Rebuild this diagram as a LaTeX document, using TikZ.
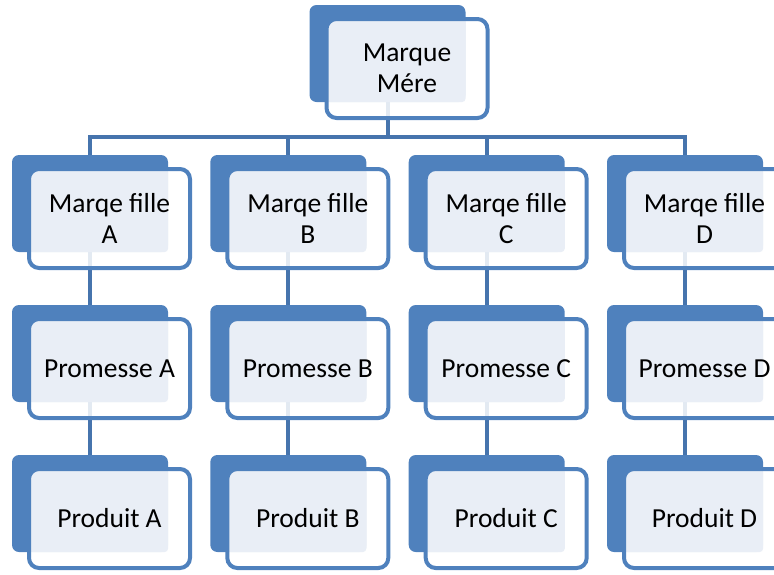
\documentclass[tikz,border=0pt]{standalone}
\usepackage{fontspec}
\setmainfont{Carlito}
\usetikzlibrary{positioning,backgrounds}

\definecolor{accent}{HTML}{4F81BD}
\definecolor{pane}{HTML}{E9EEF6}
\definecolor{linkblue}{HTML}{4674AD}

\tikzset{
  backbox/.style={fill=accent, rounded corners=7pt, minimum width=156pt,
    minimum height=97pt, inner sep=0pt},
  frontbox/.style={draw=accent, line width=4pt, fill=white, fill opacity=0.85,
    text opacity=1, rounded corners=10pt, minimum width=161pt,
    minimum height=99pt, inner sep=0pt, align=center,
    font=\fontsize{27.5}{31}\selectfont},
  connector/.style={draw=linkblue, line width=4pt}
}

% one box: blue block behind, framed box in front
\newcommand{\brand}[3]{%
  \node[backbox] (#1-back) at (#2) {};
  \node[frontbox, on grid, below right=15pt and 19.5pt of #1-back,
    path picture={\fill[pane, fill opacity=1, rounded corners=4pt]
      (path picture bounding box.north west) rectangle (#1-back.south east);}]
    (#1) {#3};
}

\begin{document}
\begin{tikzpicture}[x=1pt,y=-1pt]
	\useasboundingbox (0,0) rectangle (774,574);
	\brand{mere}{387.5,53.5}{Marque\\Mére}
	\foreach \c/\x in {A/90,B/288.3,C/486.7,D/685}{
		\brand{fille-\c}{\x,203.5}{Marqe fille\\\c}
		\brand{promesse-\c}{\x,353.5}{Promesse \c}
		\brand{produit-\c}{\x,503.5}{Produit \c}
	}
	\coordinate (bar) at (387.5,137);
	\begin{scope}[on background layer]
		\draw[connector] (mere-back) -- (bar);
		\foreach \c in {A,B,C,D}{
			\draw[connector] (bar) -| (fille-\c-back);
			\draw[connector] (fille-\c-back) -- (promesse-\c-back);
			\draw[connector] (promesse-\c-back) -- (produit-\c-back);
		}
	\end{scope}
\end{tikzpicture}
\end{document}
